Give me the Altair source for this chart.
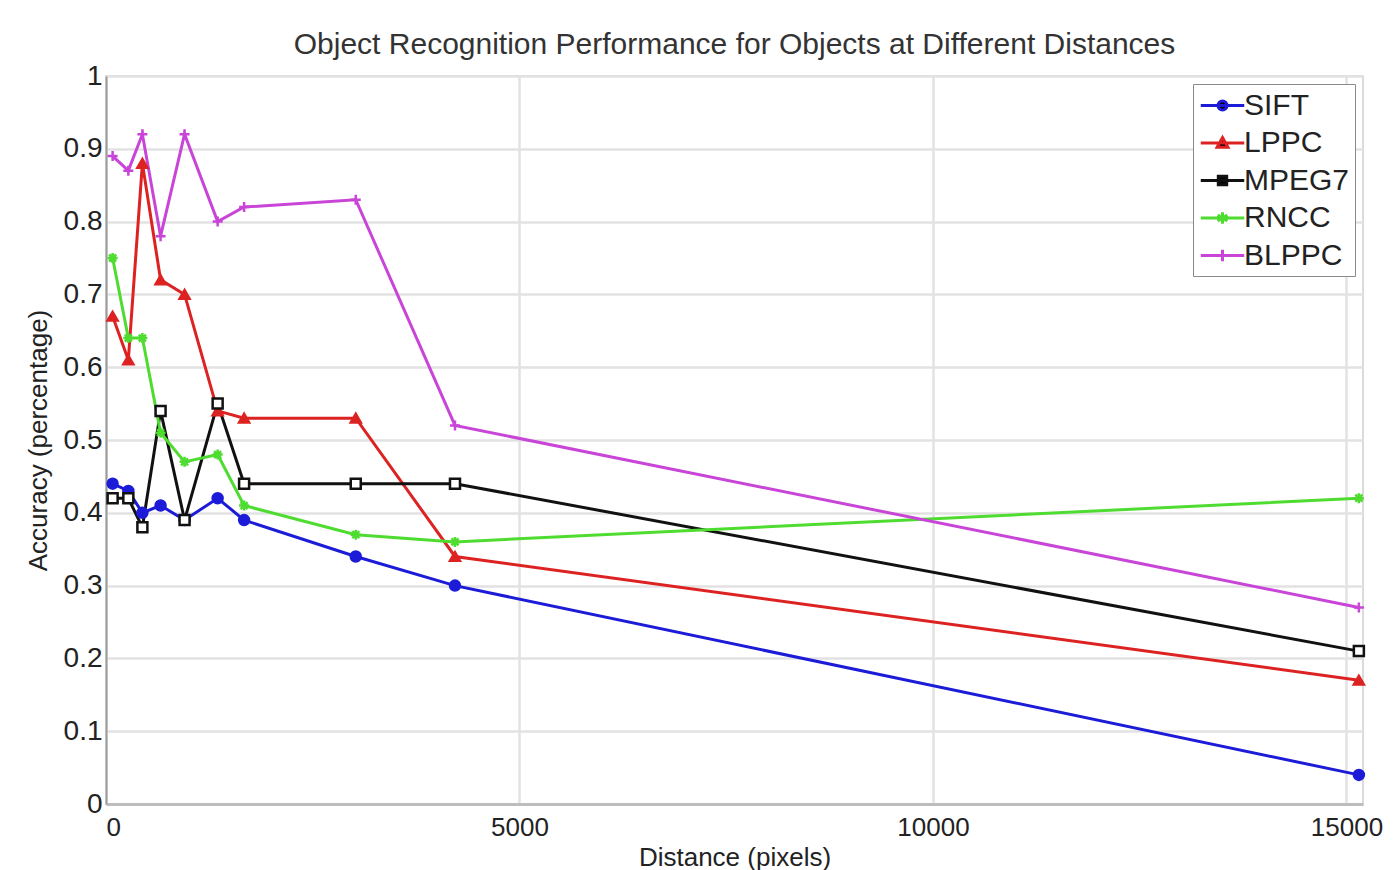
import altair as alt
import pandas as pd

# ---- data ----
distance = [80, 270, 440, 660, 950, 1350, 1670, 3020, 4220, 15150]
sift = [0.44, 0.43, 0.40, 0.41, 0.39, 0.42, 0.39, 0.34, 0.30, 0.04]
lppc = [0.67, 0.61, 0.88, 0.72, 0.70, 0.54, 0.53, 0.53, 0.34, 0.17]
mpeg7 = [0.42, 0.42, 0.38, 0.54, 0.39, 0.55, 0.44, 0.44, 0.44, 0.21]
rncc = [0.75, 0.64, 0.64, 0.51, 0.47, 0.48, 0.41, 0.37, 0.36, 0.42]
blppc = [0.89, 0.87, 0.92, 0.78, 0.92, 0.80, 0.82, 0.83, 0.52, 0.27]

series_names = ["SIFT", "LPPC", "MPEG7", "RNCC", "BLPPC"]
series_values = [sift, lppc, mpeg7, rncc, blppc]
x_ticks = [0, 5000, 10000, 15000]
y_ticks = [0, 0.1, 0.2, 0.3, 0.4, 0.5, 0.6, 0.7, 0.8, 0.9, 1]

# ---- styles ----
line_colors = ["#1c1cd8", "#dd2222", "#111111", "#4fdc30", "#c845d8"]
fill_colors = ["#1c1cd8", "#dd2222", "#ffffff", "#4fdc30", "#c845d8"]
marker_shapes = [
    "circle",
    "triangle-up",
    "square",
    "M-1,0L1,0M0,-1L0,1M-0.7,-0.7L0.7,0.7M-0.7,0.7L0.7,-0.7",
    "M-1,0L1,0M0,-1L0,1",
]
legend_shapes = [
    "M-1.45,0L1.45,0M-0.3,0A0.3,0.3,0,1,1,0.3,0A0.3,0.3,0,1,1,-0.3,0Z",
    "M-1.45,0L1.45,0M0,-0.36L0.36,0.28L-0.36,0.28Z",
    "M-1.45,0L1.45,0M-0.28,-0.28L0.28,-0.28L0.28,0.28L-0.28,0.28Z",
    "M-1.45,0L1.45,0M0,-0.38L0,0.38M-0.33,-0.19L0.33,0.19M-0.33,0.19L0.33,-0.19",
    "M-1.45,0L1.45,0M0,-0.38L0,0.38",
]

rows = []
for name, vals, fc in zip(series_names, series_values, fill_colors):
    for d, v in zip(distance, vals):
        rows.append({"series": name, "distance": d, "accuracy": v, "fillc": fc})
df = pd.DataFrame(rows)

FONT = "Liberation Sans"

x_enc = alt.X(
    "distance:Q",
    scale=alt.Scale(domain=[0, 15200], nice=False, zero=False),
    axis=alt.Axis(
        values=x_ticks, format="d", title="Distance (pixels)",
        labelFontSize=26, titleFontSize=26, labelPadding=10, titlePadding=4,
        tickSize=0, domainColor="#bdbdbd", domainWidth=3,
        gridColor="#e2e2e2", gridWidth=2.5, labelColor="#222222", titleColor="#222222",
        labelFont=FONT, titleFont=FONT, titleFontWeight="normal",
    ),
)
y_enc = alt.Y(
    "accuracy:Q",
    scale=alt.Scale(domain=[0, 1], nice=False),
    axis=alt.Axis(
        values=y_ticks, format="~g", title="Accuracy (percentage)",
        labelFontSize=28, titleFontSize=26, labelPadding=4, titlePadding=12,
        tickSize=0, domainColor="#9c9c9c", domainWidth=2,
        gridColor="#e2e2e2", gridWidth=2.5, labelColor="#222222", titleColor="#222222",
        labelFont=FONT, titleFont=FONT, titleFontWeight="normal",
    ),
)

lines = alt.Chart(df).mark_line(strokeWidth=3).encode(
    x=x_enc,
    y=y_enc,
    color=alt.Color("series:N", scale=alt.Scale(domain=series_names, range=line_colors), legend=None),
    detail="series:N",
)

points = alt.Chart(df).mark_point(filled=True, size=100, strokeWidth=2.5, opacity=1).encode(
    x=x_enc,
    y=y_enc,
    stroke=alt.Stroke("series:N", scale=alt.Scale(domain=series_names, range=line_colors), legend=None),
    fill=alt.Fill("fillc:N", scale=None),
    shape=alt.Shape("series:N", scale=alt.Scale(domain=series_names, range=marker_shapes), legend=None),
)

leg_common = dict(
    title=None, orient="top-right", offset=8, fillColor="white", strokeColor="#8a8a8a",
    padding=5, labelFontSize=30, labelFont=FONT, labelColor="#222222", labelOffset=5,
    symbolSize=900, symbolStrokeWidth=3, symbolOffset=8, rowPadding=5.5, labelLimit=300,
)
legend_layer = alt.Chart(df).transform_filter("datum.distance < 0").mark_point(
    filled=True, size=900, strokeWidth=3, opacity=1
).encode(
    x=x_enc,
    y=y_enc,
    stroke=alt.Stroke("series:N", scale=alt.Scale(domain=series_names, range=line_colors),
                      legend=alt.Legend(**leg_common)),
    fill=alt.Fill("series:N", scale=alt.Scale(domain=series_names, range=fill_colors),
                  legend=alt.Legend(**leg_common)),
    shape=alt.Shape("series:N", scale=alt.Scale(domain=series_names, range=legend_shapes),
                    legend=alt.Legend(**leg_common)),
)

chart = (
    alt.layer(lines, points, legend_layer)
    .resolve_scale(shape="independent", stroke="independent")
    .properties(
        width=1257, height=728,
        autosize=alt.AutoSizeParams(type="none"),
        padding={"left": 106, "top": 76, "right": 31, "bottom": 66},
        background="white",
        title=alt.Title(
            "Object Recognition Performance for Objects at Different Distances",
            fontSize=30, font=FONT, fontWeight="normal", color="#333333",
            anchor="middle", offset=2,
        ),
    )
    .configure_view(stroke="#cfcfcf", strokeWidth=1.5)
)

chart.save("out.html", embed_options={"renderer": "svg", "actions": False})
